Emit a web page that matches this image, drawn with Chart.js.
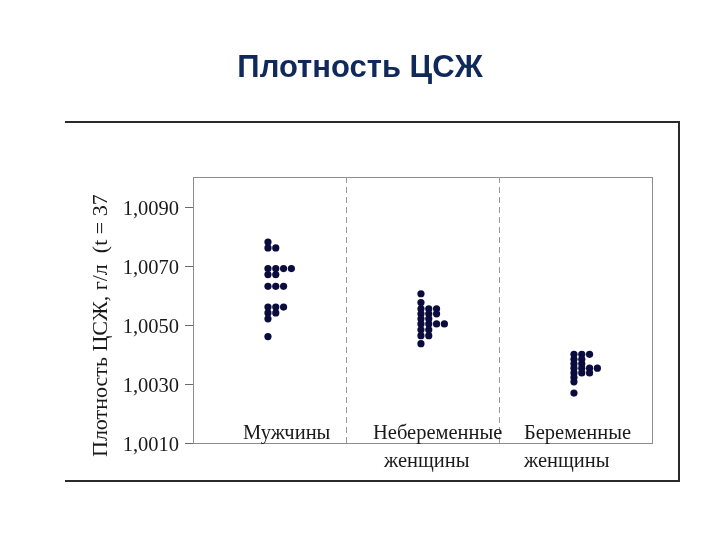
<!DOCTYPE html>
<html>
<head>
<meta charset="utf-8">
<script src="https://cdn.jsdelivr.net/npm/chart.js@4/dist/chart.umd.min.js"></script>
<style>
  body { margin: 0; background: #ffffff; }
  canvas { display: block; }
</style>
</head>
<body>
<canvas id="chart" width="720" height="540"></canvas>
<script>
// --- Data ---
const categories = [['Мужчины'], ['Небеременные', 'женщины'], ['Беременные', 'женщины']];
const yTicks = [1.0010, 1.0030, 1.0050, 1.0070, 1.0090];
const yTickLabels = ['1,0010', '1,0030', '1,0050', '1,0070', '1,0090'];

// each row of the dot plot: value and how many dots are stacked side by side
const menValues = [1.0078, 1.0076, 1.0069, 1.0067, 1.0063, 1.0056, 1.0054, 1.0052, 1.0046];
const menCounts = [1, 2, 4, 2, 3, 3, 2, 1, 1];
const nonPregValues = [1.00605, 1.00575, 1.00554, 1.00537, 1.0052, 1.00503, 1.00483, 1.00463, 1.00436];
const nonPregCounts = [1, 1, 3, 3, 2, 4, 2, 2, 1];
const pregValues = [1.0040, 1.00383, 1.00368, 1.00353, 1.00337, 1.00322, 1.00307, 1.00269];
const pregCounts = [3, 2, 2, 4, 3, 1, 1, 1];

const DOT_STEP = 0.051; // horizontal step between stacked dots, in category units

function stackDots(values, counts, catIndex) {
  const pts = [];
  values.forEach((v, i) => {
    for (let k = 0; k < counts[i]; k++) {
      pts.push({ x: catIndex + 0.49 + k * DOT_STEP, y: v });
    }
  });
  return pts;
}

const dotColor = '#0b0b3d';
const serif = '"Liberation Serif", "DejaVu Serif", serif';

// --- Decorations drawn around the plot ---
const decorPlugin = {
  id: 'decor',
  beforeDraw(chart) {
    const { ctx, chartArea: a, scales: { x, y } } = chart;
    ctx.save();

    // outer frame (top, right, bottom)
    ctx.strokeStyle = '#2a2a2a';
    ctx.lineWidth = 2;
    ctx.beginPath();
    ctx.moveTo(65, 122); ctx.lineTo(679, 122); ctx.lineTo(679, 481); ctx.lineTo(65, 481);
    ctx.stroke();

    // title
    ctx.fillStyle = '#10285a';
    ctx.font = 'bold 31px "Liberation Sans", Arial, sans-serif';
    ctx.textAlign = 'center';
    ctx.textBaseline = 'middle';
    ctx.fillText('Плотность ЦСЖ', 360, 68);

    // plot box
    ctx.strokeStyle = '#8c8c8c';
    ctx.lineWidth = 1;
    ctx.strokeRect(a.left + 0.5, a.top + 0.5, a.right - a.left, a.bottom - a.top);

    // dashed dividers between groups
    ctx.setLineDash([6, 4]);
    ctx.strokeStyle = '#9a9a9a';
    [1, 2].forEach(v => {
      const px = Math.round(x.getPixelForValue(v)) + 0.5;
      ctx.beginPath();
      ctx.moveTo(px, a.top); ctx.lineTo(px, a.bottom);
      ctx.stroke();
    });
    ctx.setLineDash([]);

    // y ticks and labels
    ctx.strokeStyle = '#6a6a6a';
    ctx.fillStyle = '#1a1a1a';
    ctx.font = '20.5px ' + serif;
    ctx.textAlign = 'right';
    ctx.textBaseline = 'middle';
    yTicks.forEach((t, i) => {
      const py = Math.round(y.getPixelForValue(t)) + 0.5;
      ctx.beginPath();
      ctx.moveTo(a.left - 8, py); ctx.lineTo(a.left, py);
      ctx.stroke();
      ctx.fillText(yTickLabels[i], 179, py + 2);
    });

    // category labels
    const offsets = [[50], [27, 38], [25, 25]];
    ctx.textAlign = 'left';
    categories.forEach((lines, i) => {
      const left = x.getPixelForValue(i);
      lines.forEach((txt, j) => {
        ctx.fillText(txt, left + offsets[i][j], 434 + j * 28);
      });
    });

    // y axis title (rotated)
    ctx.save();
    ctx.font = '22px ' + serif;
    ctx.translate(101, 457);
    ctx.rotate(-Math.PI / 2);
    ctx.textAlign = 'left';
    ctx.fillText('Плотность ЦСЖ, г/л  (t = 37', 0, 0);
    ctx.restore();

    ctx.restore();
  }
};

const ctx = document.getElementById('chart').getContext('2d');
new Chart(ctx, {
  type: 'scatter',
  data: {
    datasets: [
      { data: stackDots(menValues, menCounts, 0) },
      { data: stackDots(nonPregValues, nonPregCounts, 1) },
      { data: stackDots(pregValues, pregCounts, 2) }
    ].map(d => Object.assign(d, {
      backgroundColor: dotColor,
      borderWidth: 0,
      pointRadius: 3.6,
      pointHoverRadius: 3.6
    }))
  },
  options: {
    responsive: false,
    animation: false,
    layout: { padding: { left: 193, right: 68, top: 177, bottom: 97 } },
    plugins: {
      legend: { display: false },
      tooltip: { enabled: false }
    },
    scales: {
      x: { type: 'linear', min: 0, max: 3, display: false },
      y: { type: 'linear', min: 1.0010, max: 1.0100, display: false }
    }
  },
  plugins: [decorPlugin]
});
</script>
</body>
</html>
